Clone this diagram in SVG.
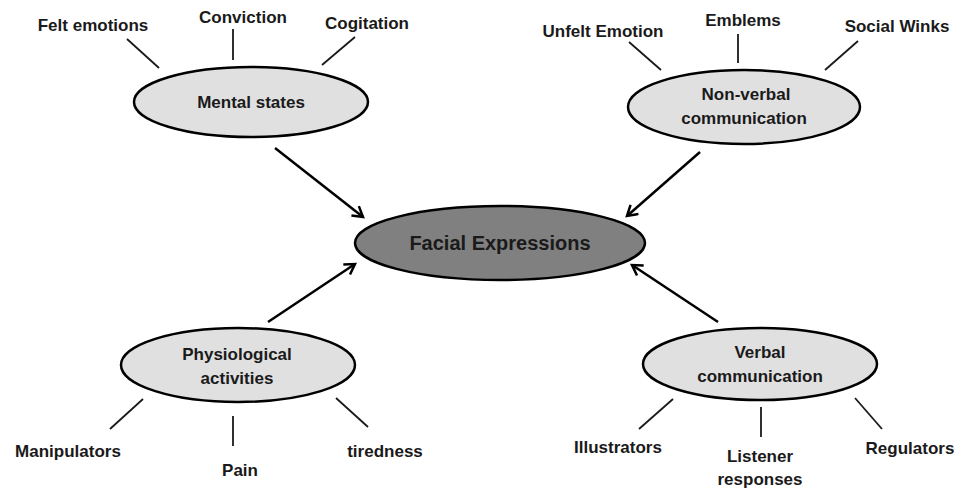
<svg xmlns="http://www.w3.org/2000/svg" width="958" height="489" viewBox="0 0 958 489">
<style>
text{font-family:"Liberation Sans",Arial,sans-serif;font-weight:bold;font-size:17px;fill:#1a1a1a;text-anchor:middle}
.node{fill:#e0e0e0;stroke:#000;stroke-width:2.5}
.main{fill:#808080;stroke:#000;stroke-width:2.5}
.tie{stroke:#1a1a1a;stroke-width:1.8;fill:none}
.arr{stroke:#000;stroke-width:2.5;fill:none;marker-end:url(#ah)}
.big{font-size:20px}
</style>
<defs>
<marker id="ah" markerWidth="14" markerHeight="14" refX="11" refY="7" orient="auto" markerUnits="userSpaceOnUse">
<path d="M1,1 L11,7 L1,13" fill="none" stroke="#000" stroke-width="2.5"/>
</marker>
</defs>
<rect width="958" height="489" fill="#fff"/>
<g id="connectors">
<line class="arr" x1="275" y1="148" x2="363" y2="217"/>
<line class="arr" x1="700" y1="152" x2="627" y2="216"/>
<line class="arr" x1="268" y1="322" x2="355" y2="264"/>
<line class="arr" x1="718" y1="322" x2="632" y2="265"/>
<line class="tie" x1="127" y1="39" x2="159" y2="68"/>
<line class="tie" x1="233" y1="29" x2="233" y2="60"/>
<line class="tie" x1="355" y1="37" x2="322" y2="65"/>
<line class="tie" x1="629" y1="42" x2="661" y2="70"/>
<line class="tie" x1="738" y1="34" x2="738" y2="63"/>
<line class="tie" x1="858" y1="41" x2="825" y2="70"/>
<line class="tie" x1="143" y1="399" x2="110" y2="429"/>
<line class="tie" x1="233" y1="416" x2="233" y2="446"/>
<line class="tie" x1="336" y1="398" x2="368" y2="427"/>
<line class="tie" x1="673" y1="399" x2="639" y2="429"/>
<line class="tie" x1="761" y1="407" x2="761" y2="437"/>
<line class="tie" x1="855" y1="398" x2="882" y2="429"/>
</g>
<g id="facial">
<ellipse class="main" cx="500" cy="243" rx="145" ry="37"/>
<text class="big" x="500" y="250">Facial Expressions</text>
</g>
<g id="mental">
<ellipse class="node" cx="251" cy="102" rx="117" ry="35"/>
<text x="251" y="108">Mental states</text>
</g>
<g id="nonverbal">
<ellipse class="node" cx="744" cy="107" rx="116" ry="37"/>
<text x="746" y="100">Non-verbal</text>
<text x="744" y="124">communication</text>
</g>
<g id="physio">
<ellipse class="node" cx="238" cy="365" rx="117" ry="37"/>
<text x="237" y="360">Physiological</text>
<text x="237" y="384">activities</text>
</g>
<g id="verbal">
<ellipse class="node" cx="760" cy="364" rx="117" ry="36"/>
<text x="760" y="358">Verbal</text>
<text x="760" y="382">communication</text>
</g>
<g id="felt"><text x="93" y="31">Felt emotions</text></g>
<g id="conviction"><text x="243" y="23">Conviction</text></g>
<g id="cogitation"><text x="367" y="29">Cogitation</text></g>
<g id="unfelt"><text x="603" y="37">Unfelt Emotion</text></g>
<g id="emblems"><text x="743" y="26">Emblems</text></g>
<g id="winks"><text x="897" y="32">Social Winks</text></g>
<g id="manipulators"><text x="68" y="457">Manipulators</text></g>
<g id="pain"><text x="240" y="476">Pain</text></g>
<g id="tiredness"><text x="385" y="457">tiredness</text></g>
<g id="illustrators"><text x="618" y="453">Illustrators</text></g>
<g id="listener"><text x="760" y="462">Listener</text><text x="760" y="485">responses</text></g>
<g id="regulators"><text x="910" y="454">Regulators</text></g>
</svg>
